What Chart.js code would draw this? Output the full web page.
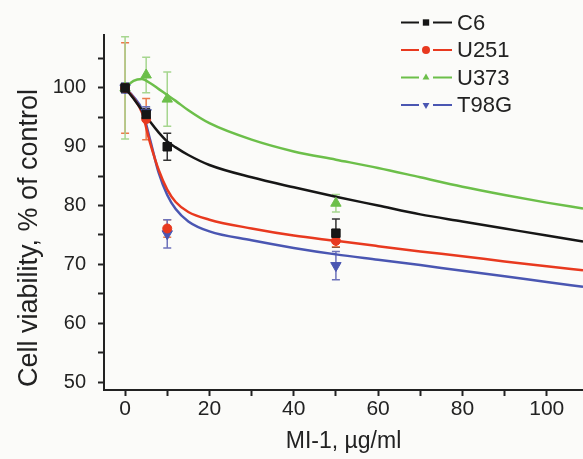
<!DOCTYPE html>
<html>
<head>
<meta charset="utf-8">
<script src="https://cdn.jsdelivr.net/npm/chart.js@4.4.1/dist/chart.umd.min.js"></script>
<style>
  html, body { margin: 0; padding: 0; background: #fbfbf9; }
  #wrap { width: 583px; height: 459px; }
</style>
</head>
<body>
<div id="wrap"><canvas id="viability"></canvas></div>
<script>
// measured points (mean ± error)
const doses = [0, 5, 10, 50];
const c6Mean = [100, 95.5, 90.0, 75.3];
const c6Err = [0.8, 1.0, 2.3, 2.4];
const u251Mean = [100, 94.7, 76.1, 74.0];
const u251Err = [7.7, 3.5, 1.5, 1.0];
const u373Mean = [100, 102.2, 98.1, 80.4];
const u373Err = [8.7, 3.0, 4.6, 1.5];
const t98gMean = [100, 95.8, 75.2, 69.8];
const t98gErr = [0.8, 1.0, 2.4, 2.4];

// fitted curves
const fitDoses = [0, 2, 4, 6, 8, 10, 12, 15, 20, 30, 40, 50, 60, 70, 80, 90, 100, 108.6];
const c6Fit = [100, 98.2, 96.2, 94.2, 92.4, 90.9, 89.9, 88.6, 86.9, 84.8, 83.1, 81.5, 80.0, 78.5, 77.3, 76.1, 74.9, 73.9];
const u251Fit = [100, 98.3, 95.8, 90.5, 86.0, 82.7, 80.6, 78.9, 77.6, 76.1, 74.9, 74.0, 73.1, 72.2, 71.4, 70.5, 69.7, 69.0];
const u373Fit = [100, 101.2, 101.5, 100.8, 99.8, 98.8, 97.8, 96.2, 94.0, 91.2, 89.2, 87.8, 86.4, 84.8, 83.2, 81.8, 80.5, 79.5];
const t98gFit = [100, 98.5, 96.3, 91.0, 85.5, 81.8, 79.4, 77.3, 75.6, 74.1, 72.8, 71.7, 70.8, 69.9, 68.9, 68.0, 67.0, 66.2];

const xTicks = [0, 10, 20, 30, 40, 50, 60, 70, 80, 90, 100];
const yTicks = [50, 55, 60, 65, 70, 75, 80, 85, 90, 95, 100, 105];
const lineNames = ['C6', 'U251', 'U373', 'T98G'];

const FONT = 'Liberation Sans, Arial, Helvetica, sans-serif';
const INK = '#222';

const series = [
  { name: 'C6', mean: c6Mean, err: c6Err, fit: c6Fit, color: '#161616', barColor: '#333333', style: 'rect', radius: 6, rotation: 0 },
  { name: 'U251', mean: u251Mean, err: u251Err, fit: u251Fit, color: '#e8391f', barColor: '#ea7a4a', style: 'circle', radius: 4.5, rotation: 0 },
  { name: 'U373', mean: u373Mean, err: u373Err, fit: u373Fit, color: '#6cbf4a', barColor: '#a6d68f', style: 'triangle', radius: 6, rotation: 0 },
  { name: 'T98G', mean: t98gMean, err: t98gErr, fit: t98gFit, color: '#4a56b2', barColor: '#6d72ba', style: 'triangle', radius: 6, rotation: 180 }
];

const pointSets = series.map(s => ({
  label: s.name,
  data: doses.map((d, i) => ({ x: d, y: s.mean[i] })),
  showLine: false,
  pointStyle: s.style,
  pointRotation: s.rotation,
  pointRadius: s.radius,
  backgroundColor: s.color,
  borderColor: s.color,
  borderWidth: 1
}));

const curveSets = series.map(s => ({
  label: s.name + ' fit',
  data: fitDoses.map((d, i) => ({ x: d, y: s.fit[i] })),
  showLine: true,
  pointRadius: 0,
  borderColor: s.color,
  borderWidth: 2.5,
  cubicInterpolationMode: 'monotone'
}));

// error bars under the markers
const errorBars = {
  id: 'errorBars',
  beforeDatasetsDraw(chart) {
    const { ctx, scales: { x, y } } = chart;
    ctx.save();
    ctx.lineWidth = 1.5;
    series.forEach(s => {
      ctx.strokeStyle = s.barColor;
      doses.forEach((d, i) => {
        const px = x.getPixelForValue(d);
        const top = y.getPixelForValue(s.mean[i] + s.err[i]);
        const bot = y.getPixelForValue(s.mean[i] - s.err[i]);
        ctx.beginPath();
        ctx.moveTo(px, top); ctx.lineTo(px, bot);
        ctx.moveTo(px - 4, top); ctx.lineTo(px + 4, top);
        ctx.moveTo(px - 4, bot); ctx.lineTo(px + 4, bot);
        ctx.stroke();
      });
    });
    ctx.restore();
  }
};

// line-marker-line legend and rotated y title
const decorations = {
  id: 'decorations',
  afterDraw(chart) {
    const { ctx } = chart;
    ctx.save();
    ctx.font = '22px ' + FONT;
    ctx.textBaseline = 'middle';
    series.forEach((s, i) => {
      const cy = 22.5 + i * 27.5;
      ctx.strokeStyle = s.color;
      ctx.lineWidth = 2;
      ctx.beginPath();
      ctx.moveTo(401, cy); ctx.lineTo(419, cy);
      ctx.moveTo(433, cy); ctx.lineTo(452, cy);
      ctx.stroke();
      ctx.fillStyle = s.color;
      Chart.helpers.drawPoint(ctx, {
        pointStyle: s.style, radius: s.style === 'rect' ? 4.5 : 4, rotation: s.rotation, borderWidth: 0
      }, 426, cy);
      ctx.fillStyle = INK;
      ctx.fillText(lineNames[i], 457, cy + 1);
    });
    ctx.translate(37, 238);
    ctx.rotate(-Math.PI / 2);
    ctx.textAlign = 'center';
    ctx.textBaseline = 'alphabetic';
    ctx.font = '27px ' + FONT;
    ctx.fillStyle = INK;
    ctx.fillText('Cell viability, % of control', 0, 0);
    ctx.restore();
  }
};

const axisStyle = {
  border: { display: true, color: INK, width: 2 },
  grid: { drawOnChartArea: false, drawTicks: true, tickLength: 6, tickColor: INK, tickWidth: 2 }
};

new Chart('viability', {
  type: 'scatter',
  data: { datasets: [...pointSets, ...curveSets] },
  options: {
    responsive: true,
    maintainAspectRatio: false,
    animation: false,
    layout: { autoPadding: false, padding: { top: 35, right: 0, bottom: 0, left: 0 } },
    plugins: { legend: { display: false }, tooltip: { enabled: false } },
    scales: {
      x: {
        type: 'linear',
        min: -5,
        max: 108.6,
        ...axisStyle,
        afterBuildTicks: s => { s.ticks = xTicks.map(v => ({ value: v })); },
        afterFit: s => { s.height = 69; s.paddingRight = 0; s.paddingLeft = 0; },
        ticks: {
          autoSkip: false, maxRotation: 0, padding: 1, color: INK,
          font: { size: 21, family: FONT },
          callback: v => (v % 20 === 0 ? v : '')
        },
        title: {
          display: true, text: 'MI-1, µg/ml', color: INK,
          font: { size: 23, family: FONT }, padding: { top: 0, bottom: 4 }
        }
      },
      y: {
        min: 48.64,
        max: 109,
        ...axisStyle,
        afterBuildTicks: s => { s.ticks = yTicks.map(v => ({ value: v })); },
        afterFit: s => { s.width = 104; s.paddingTop = 0; s.paddingBottom = 0; },
        ticks: {
          autoSkip: false, padding: 12, color: INK,
          font: { size: 20, family: FONT },
          callback: v => (v % 10 === 0 ? v : '')
        }
      }
    }
  },
  plugins: [errorBars, decorations]
});
</script>
</body>
</html>
